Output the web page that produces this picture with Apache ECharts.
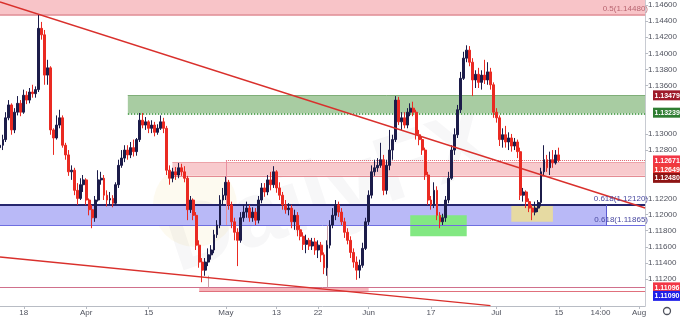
<!DOCTYPE html>
<html><head><meta charset="utf-8">
<script src="https://cdn.jsdelivr.net/npm/echarts@6/dist/echarts.min.js"></script>
<style>html,body{margin:0;padding:0;background:#fff}#c{width:680px;height:318px}</style>
</head><body><div id="c"></div>
<script>
// Candles: [open, close, low, high]
const marCandles = [
[1.1283,1.1286,1.1278,1.1293],[1.1286,1.1293,1.1280,1.1299],[1.1293,1.1320,1.1290,1.1327],[1.1320,1.1336,1.1317,1.1342],
[1.1336,1.1305,1.1299,1.1338],[1.1305,1.1327,1.1301,1.1332],[1.1327,1.1338,1.1323,1.1347],[1.1338,1.1327,1.1322,1.1342],
[1.1327,1.1348,1.1325,1.1355],[1.1348,1.1342,1.1337,1.1353],[1.1342,1.1352,1.1338,1.1357],[1.1352,1.1350,1.1345,1.1361],
[1.1350,1.1355,1.1345,1.1359],[1.1355,1.1431,1.1352,1.1448],[1.1431,1.1423,1.1417,1.1439],[1.1423,1.1373,1.1361,1.1429],
[1.1373,1.1382,1.1361,1.1392],[1.1382,1.1305,1.1299,1.1384],[1.1305,1.1295,1.1274,1.1307],[1.1295,1.1311,1.1293,1.1323],
[1.1311,1.1320,1.1307,1.1330],[1.1320,1.1286,1.1283,1.1323],[1.1286,1.1274,1.1268,1.1289],[1.1274,1.1253,1.1248,1.1280],
[1.1253,1.1255,1.1243,1.1261],[1.1255,1.1230,1.1224,1.1258],[1.1230,1.1220,1.1212,1.1239],[1.1220,1.1237,1.1218,1.1245],
[1.1237,1.1243,1.1228,1.1249]
];
const aprCandles = [
[1.1243,1.1218,1.1212,1.1245],[1.1218,1.1206,1.1199,1.1220],[1.1206,1.1196,1.1183,1.1212],[1.1196,1.1218,1.1191,1.1223],
[1.1218,1.1243,1.1216,1.1255],[1.1243,1.1245,1.1237,1.1253],[1.1245,1.1224,1.1218,1.1249],[1.1224,1.1218,1.1210,1.1230],
[1.1218,1.1220,1.1212,1.1228],[1.1220,1.1214,1.1209,1.1224],[1.1214,1.1237,1.1212,1.1240],[1.1237,1.1261,1.1233,1.1268],
[1.1261,1.1270,1.1258,1.1280],[1.1270,1.1280,1.1265,1.1286],[1.1280,1.1274,1.1268,1.1286],[1.1274,1.1283,1.1270,1.1290],
[1.1283,1.1278,1.1272,1.1293],[1.1278,1.1293,1.1273,1.1295],[1.1293,1.1317,1.1290,1.1326],[1.1317,1.1311,1.1307,1.1326],
[1.1311,1.1315,1.1305,1.1321],[1.1315,1.1307,1.1301,1.1317],[1.1307,1.1311,1.1301,1.1317],[1.1311,1.1302,1.1297,1.1315],
[1.1302,1.1307,1.1299,1.1312],[1.1307,1.1315,1.1305,1.1323],[1.1315,1.1307,1.1301,1.1320],[1.1307,1.1255,1.1249,1.1310],
[1.1255,1.1245,1.1237,1.1261],[1.1245,1.1253,1.1240,1.1258],[1.1253,1.1249,1.1243,1.1259],[1.1249,1.1258,1.1245,1.1264],
[1.1258,1.1253,1.1248,1.1263],[1.1253,1.1245,1.1240,1.1260],[1.1245,1.1206,1.1193,1.1248],[1.1206,1.1218,1.1202,1.1223],
[1.1218,1.1199,1.1193,1.1220],[1.1199,1.1162,1.1156,1.1203],[1.1162,1.1141,1.1134,1.1168],[1.1141,1.1131,1.1116,1.1146],
[1.1131,1.1141,1.1124,1.1146],[1.1141,1.1150,1.1136,1.1158],[1.1150,1.1156,1.1144,1.1162],[1.1156,1.1175,1.1152,1.1181],
[1.1175,1.1187,1.1171,1.1193],[1.1187,1.1218,1.1183,1.1224]
];
const mayCandles = [
[1.1218,1.1224,1.1212,1.1233],[1.1224,1.1240,1.1218,1.1247],[1.1240,1.1212,1.1206,1.1243],[1.1212,1.1191,1.1183,1.1216],
[1.1191,1.1178,1.1168,1.1196],[1.1178,1.1168,1.1136,1.1183],[1.1168,1.1196,1.1165,1.1203],[1.1196,1.1203,1.1191,1.1212],
[1.1203,1.1208,1.1196,1.1216],[1.1208,1.1196,1.1191,1.1212],[1.1196,1.1203,1.1191,1.1209],[1.1203,1.1193,1.1187,1.1208],
[1.1193,1.1218,1.1189,1.1223],[1.1218,1.1233,1.1214,1.1239],[1.1233,1.1228,1.1222,1.1239],[1.1228,1.1243,1.1224,1.1249],
[1.1243,1.1237,1.1230,1.1253],[1.1237,1.1253,1.1233,1.1260],[1.1253,1.1233,1.1227,1.1255],[1.1233,1.1224,1.1218,1.1240],
[1.1224,1.1212,1.1206,1.1228],[1.1212,1.1206,1.1201,1.1218],[1.1206,1.1208,1.1199,1.1214],[1.1208,1.1191,1.1183,1.1212],
[1.1191,1.1199,1.1181,1.1206],[1.1199,1.1181,1.1173,1.1203],[1.1181,1.1173,1.1168,1.1187],[1.1173,1.1163,1.1156,1.1178],
[1.1163,1.1168,1.1152,1.1175],[1.1168,1.1161,1.1156,1.1171],[1.1161,1.1166,1.1156,1.1171],[1.1166,1.1156,1.1150,1.1171],
[1.1156,1.1162,1.1146,1.1168],[1.1162,1.1150,1.1141,1.1166],[1.1150,1.1134,1.1126,1.1153],[1.1134,1.1162,1.1124,1.1168],
[1.1162,1.1187,1.1158,1.1193],[1.1187,1.1199,1.1183,1.1208],[1.1199,1.1212,1.1193,1.1218],[1.1212,1.1203,1.1197,1.1216],
[1.1203,1.1191,1.1187,1.1208],[1.1191,1.1178,1.1171,1.1196],[1.1178,1.1168,1.1163,1.1183],[1.1168,1.1153,1.1146,1.1173],
[1.1153,1.1141,1.1134,1.1158],[1.1141,1.1131,1.1119,1.1148],[1.1131,1.1137,1.1121,1.1144],[1.1137,1.1158,1.1134,1.1165]
];
const junCandles = [
[1.1158,1.1191,1.1156,1.1196],[1.1191,1.1224,1.1187,1.1230],[1.1224,1.1253,1.1220,1.1261],[1.1253,1.1258,1.1248,1.1268],
[1.1258,1.1261,1.1253,1.1270],[1.1261,1.1268,1.1258,1.1289],[1.1268,1.1230,1.1224,1.1274],[1.1230,1.1261,1.1225,1.1268],
[1.1261,1.1280,1.1255,1.1305],[1.1280,1.1293,1.1268,1.1299],[1.1293,1.1342,1.1290,1.1347],[1.1342,1.1315,1.1311,1.1346],
[1.1315,1.1320,1.1305,1.1327],[1.1320,1.1311,1.1307,1.1327],[1.1311,1.1327,1.1307,1.1332],[1.1327,1.1332,1.1322,1.1338],
[1.1332,1.1327,1.1322,1.1340],[1.1327,1.1299,1.1293,1.1330],[1.1299,1.1293,1.1286,1.1305],[1.1293,1.1280,1.1274,1.1297],
[1.1280,1.1249,1.1243,1.1283],[1.1249,1.1218,1.1212,1.1253],[1.1218,1.1212,1.1206,1.1223],[1.1212,1.1230,1.1208,1.1240],
[1.1230,1.1199,1.1193,1.1235],[1.1199,1.1191,1.1183,1.1203],[1.1191,1.1196,1.1187,1.1201],[1.1196,1.1218,1.1191,1.1223],
[1.1218,1.1245,1.1214,1.1253],[1.1245,1.1280,1.1243,1.1286],[1.1280,1.1299,1.1274,1.1307],[1.1299,1.1330,1.1295,1.1336],
[1.1330,1.1369,1.1326,1.1377],[1.1369,1.1394,1.1367,1.1402],[1.1394,1.1404,1.1389,1.1410],[1.1404,1.1389,1.1384,1.1409],
[1.1389,1.1367,1.1347,1.1394],[1.1367,1.1374,1.1357,1.1379],[1.1374,1.1364,1.1357,1.1382],[1.1364,1.1373,1.1355,1.1379],
[1.1373,1.1367,1.1362,1.1392],[1.1367,1.1377,1.1361,1.1389],[1.1377,1.1361,1.1355,1.1382],[1.1361,1.1327,1.1320,1.1364]
];
const julCandles = [
[1.1327,1.1320,1.1314,1.1332],[1.1320,1.1293,1.1285,1.1323],[1.1293,1.1299,1.1283,1.1307],[1.1299,1.1290,1.1283,1.1310],
[1.1290,1.1295,1.1280,1.1302],[1.1295,1.1285,1.1278,1.1300],[1.1285,1.1290,1.1280,1.1295],[1.1290,1.1278,1.1270,1.1293],
[1.1278,1.1224,1.1218,1.1283],[1.1224,1.1228,1.1216,1.1233],[1.1228,1.1216,1.1208,1.1230],[1.1216,1.1208,1.1203,1.1220],
[1.1208,1.1203,1.1193,1.1212],[1.1203,1.1208,1.1199,1.1216],[1.1208,1.1215,1.1203,1.1218],[1.1215,1.1253,1.1210,1.1258],
[1.1253,1.1268,1.1249,1.1286],[1.1268,1.1258,1.1253,1.1274],[1.1258,1.1268,1.1249,1.1278],[1.1268,1.1264,1.1258,1.1280],
[1.1264,1.1274,1.1262,1.1280],[1.1274,1.1267,1.1265,1.1283]
];

const xTickLabels = ['18','Apr','15','May','13','22','Jun','17','Jul','15','14:00','Aug'];
const xTickIndex  = [8, 29, 50, 76, 93, 107, 124, 145, 167, 188, 202, 215];
const yTickValues = [1.112,1.114,1.116,1.118,1.120,1.122,1.128,1.130,1.136,1.138,1.140,1.142,1.144,1.146];
const tagValues   = [1.13479,1.13239,1.12671,1.12649,1.12480,1.11096,1.11090];
const fibHalf = 1.14480;
const fibBlue = [1.11865, 1.12120];
const greenZone = [1.13256, 1.13479];
const pinkZone = [1.12480, 1.12649];
const lastPrice = 1.12671;
const supportBox = [1.11050, 1.11096];
const greenBox = [1.1173, 1.1199];
const tanBox = [1.1191, 1.1212];
const trendUpper = [[0, 1.14637], [217, 1.12081]];
const trendLower = [[0, 1.11473], [165, 1.10870]];
const yMin = 1.10865, yMax = 1.14662;

const candles = [].concat(marCandles, aprCandles, mayCandles, junCandles, julCandles);
const N = 218;
const categories = Array.from({length: N}, (_, i) => String(i));
const labelFor = {};
xTickIndex.forEach((k, j) => { labelFor[k] = xTickLabels[j]; });
const isTick = (idx) => labelFor[idx] !== undefined;

const FONT = 'Liberation Sans, Arial, sans-serif';
const END = String(N - 1);

function hline(v, from, color, width, type) {
  return [{coord: [from, v], lineStyle: {color: color, width: width, type: type || 'solid'}}, {coord: [END, v]}];
}
function seg(x1, v1, x2, v2, color, width, type) {
  return [{coord: [x1, v1], lineStyle: {color: color, width: width, type: type || 'solid'}}, {coord: [x2, v2]}];
}

const option = {
  animation: false,
  backgroundColor: '#ffffff',
  grid: {left: 0, right: 28, top: 0, bottom: 12, containLabel: false},
  xAxis: {
    type: 'category', data: categories, boundaryGap: false,
    axisLine: {lineStyle: {color: '#b8bcc4', width: 1}},
    axisTick: {show: true, interval: isTick, length: 3, lineStyle: {color: '#b8bcc4'}},
    axisLabel: {interval: isTick, formatter: (v) => labelFor[Number(v)] || '', fontSize: 8, color: '#50535e', margin: 3, fontFamily: FONT},
    splitLine: {show: false}
  },
  yAxis: {
    type: 'value', position: 'right', min: yMin, max: yMax, scale: true,
    axisLine: {show: true, lineStyle: {color: '#c8cbd2'}},
    axisTick: {show: true, length: 3, customValues: yTickValues, lineStyle: {color: '#b8bcc4'}},
    axisLabel: {customValues: yTickValues, formatter: (v) => v.toFixed(5), fontSize: 8, color: '#50535e', margin: 3, fontFamily: FONT},
    splitLine: {show: false}
  },
  series: [
    {
      type: 'line', data: [], z: 1, silent: true,
      markArea: {
        silent: true,
        data: [
          [{yAxis: fibHalf, itemStyle: {color: '#f8c4c8'}}, {yAxis: yMax + 0.001}],
          [{xAxis: '43', yAxis: greenZone[1], itemStyle: {color: '#a8cca2'}}, {xAxis: END, yAxis: greenZone[0]}],
          [{xAxis: '58', yAxis: pinkZone[1], itemStyle: {color: '#f8cacd'}}, {xAxis: END, yAxis: pinkZone[0]}],
          [{xAxis: '0', yAxis: fibBlue[1], itemStyle: {color: '#b9b9f7'}}, {xAxis: '204', yAxis: fibBlue[0]}],
          [{xAxis: '67', yAxis: supportBox[1], itemStyle: {color: '#f6b5ba'}}, {xAxis: '124', yAxis: supportBox[0]}]
        ]
      },
      markLine: {
        silent: true, symbol: 'none', label: {show: false},
        data: [
          hline(fibHalf, '0', '#df8a92', 1.5),
          hline(greenZone[1], '43', '#7fae78', 1),
          hline(greenZone[0], '43', '#2f8f2f', 1.5, 'dotted'),
          hline(pinkZone[1], '58', '#eda3a9', 1),
          hline(pinkZone[0], '58', '#e48b93', 1),
          hline(lastPrice, '76', '#e0606c', 1, 'dotted'),
          hline(fibBlue[1], '0', '#26266e', 2),
          hline(fibBlue[0], '0', '#6f6fe0', 1),
          hline(tagValues[5], '0', '#d0708c', 1),
          hline(supportBox[0], '67', '#e0707c', 1),
          seg('204', fibBlue[0], '204', fibBlue[1], '#5a5ad0', 1),
          seg('76', lastPrice, '76', 1.1187, '#e890a0', 1),
          seg('70', 1.1124, '70', tagValues[5], '#c8a0a8', 1),
          seg('110', 1.1187, '110', tagValues[5], '#c8a0a8', 1)
        ]
      }
    },
    {
      type: 'line', data: [], z: 2, silent: true,
      markArea: {
        silent: true,
        data: [
          [{xAxis: '138', yAxis: greenBox[1], itemStyle: {color: '#82e882'}}, {xAxis: '157', yAxis: greenBox[0]}],
          [{xAxis: '172', yAxis: tanBox[1], itemStyle: {color: '#e6daa2'}}, {xAxis: '186', yAxis: tanBox[0]}]
        ]
      }
    },
    {
      type: 'candlestick', data: candles, z: 5, barWidth: 2.4,
      itemStyle: {color: '#1c1c4a', color0: '#ea2a22', borderColor: '#1c1c4a', borderColor0: '#ea2a22', borderWidth: 1}
    },
    {
      type: 'line', data: trendUpper, z: 6, symbol: 'none', silent: true,
      lineStyle: {color: '#d9302c', width: 1.4}
    },
    {
      type: 'line', data: trendLower, z: 6, symbol: 'none', silent: true,
      lineStyle: {color: '#d9302c', width: 1.4}
    }
  ]
};

const chart = echarts.init(document.getElementById('c'));
chart.setOption(option);

const Y = (v) => chart.convertToPixel({yAxisIndex: 0}, v);
const tagColors = ['#9e1b2a', '#2e7d32', '#f23645', '#ef3b3b', '#8e1414', '#f23645', '#1f1fe8'];
const tagNudge = [0, -2, 0, 7, 2, 0, 8];
const gfx = [];
// faint watermark
gfx.push({type: 'circle', z: 0, silent: true, shape: {cx: 195, cy: 205, r: 42}, style: {fill: 'rgba(240,222,160,0.16)'}});
gfx.push({type: 'text', z: 0, silent: true, x: 330, y: 195, rotation: 0.32,
  style: {text: 'DailyFX', fill: 'rgba(110,110,130,0.055)', font: 'bold 92px ' + FONT, align: 'center', verticalAlign: 'middle'}});
tagValues.forEach((v, i) => {
  const y = Y(v) + tagNudge[i];
  gfx.push({type: 'rect', z: 100, shape: {x: 653, y: y - 5, width: 27, height: 10}, style: {fill: tagColors[i]}});
  gfx.push({type: 'text', z: 101, style: {text: v.toFixed(5), x: 654.5, y: y + 0.5, fill: '#ffffff', font: 'bold 7px ' + FONT, verticalAlign: 'middle', align: 'left'}});
});
const zoneTexts = [
  {t: '0.5(' + fibHalf.toFixed(5) + ')', v: fibHalf, c: '#b86470'},
  {t: '0.618(' + fibBlue[1].toFixed(5) + ')', v: fibBlue[1], c: '#4848a0'},
  {t: '0.618(' + fibBlue[0].toFixed(5) + ')', v: fibBlue[0], c: '#4848a0'}
];
zoneTexts.forEach((z) => {
  gfx.push({type: 'text', z: 90, style: {text: z.t, x: 648, y: Y(z.v) - 2, fill: z.c, font: '8px ' + FONT, align: 'right', verticalAlign: 'bottom'}});
});
gfx.push({type: 'circle', z: 100, shape: {cx: 667, cy: 311, r: 3.5}, style: {fill: 'none', stroke: '#50535e', lineWidth: 1.3}});
chart.setOption({graphic: gfx});
</script>
</body></html>
